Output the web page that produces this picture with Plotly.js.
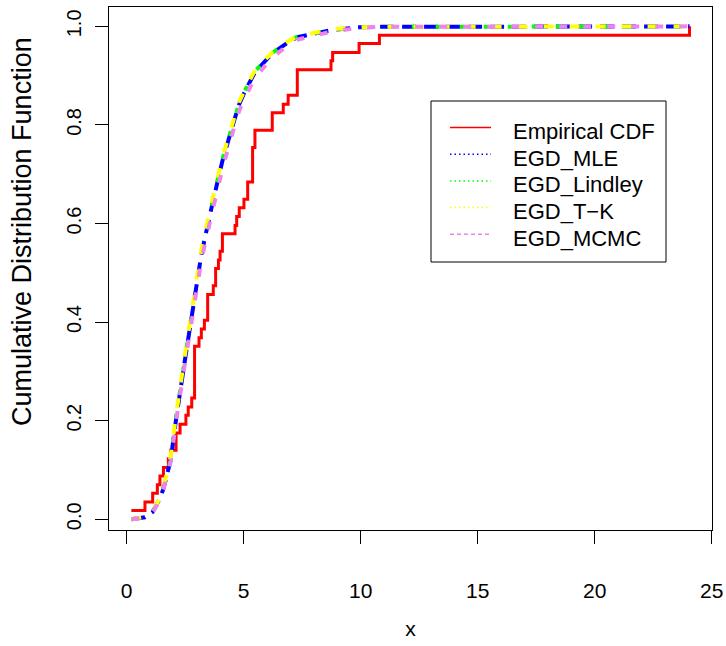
<!DOCTYPE html>
<html>
<head>
<meta charset="utf-8">
<script src="https://cdn.plot.ly/plotly-3.0.1.min.js"></script>
<style>html,body{margin:0;padding:0;background:#fff;}#chart{width:726px;height:646px;}</style>
</head>
<body>
<div id="chart"></div>
<script>
// ---- data ----
const ecdfX = [0.20,0.78,1.11,1.31,1.42,1.57,1.78,1.88,2.11,2.28,2.53,2.63,2.78,2.90,3.09,3.19,3.32,3.46,3.70,3.80,3.92,3.99,4.09,4.63,4.70,4.81,5.01,5.17,5.38,5.48,6.22,6.69,6.90,7.29,8.73,8.80,9.93,10.80,24.05];
const ecdfY = [0.018,0.035,0.053,0.070,0.088,0.105,0.123,0.140,0.175,0.193,0.211,0.228,0.246,0.351,0.368,0.386,0.404,0.456,0.474,0.509,0.526,0.544,0.579,0.596,0.614,0.632,0.649,0.684,0.754,0.789,0.825,0.842,0.860,0.912,0.930,0.947,0.965,0.982,1.000];

const fitX = [0.20,0.78,1.11,1.31,1.42,1.57,1.78,1.88,2.11,2.28,2.53,2.63,2.78,2.90,3.09,3.19,3.32,3.46,3.70,3.80,3.92,3.99,4.09,4.63,4.70,4.81,5.01,5.17,5.38,5.48,6.22,6.69,6.90,7.29,8.73,8.80,9.93,10.80,24.05];
const cdfMLE     = [0.000,0.004,0.015,0.030,0.042,0.062,0.097,0.120,0.203,0.262,0.336,0.366,0.414,0.453,0.507,0.537,0.566,0.600,0.648,0.668,0.692,0.707,0.727,0.815,0.826,0.842,0.864,0.880,0.897,0.907,0.945,0.961,0.968,0.978,0.992,0.993,0.998,0.999,1.000];
const cdfLindley = [0.000,0.004,0.016,0.031,0.044,0.064,0.100,0.123,0.206,0.265,0.339,0.369,0.417,0.456,0.510,0.540,0.569,0.603,0.651,0.671,0.695,0.710,0.730,0.817,0.828,0.844,0.866,0.882,0.899,0.909,0.946,0.962,0.969,0.979,0.992,0.993,0.998,0.999,1.000];
const cdfTK      = [0.000,0.005,0.017,0.033,0.046,0.067,0.104,0.128,0.212,0.272,0.347,0.377,0.425,0.464,0.518,0.547,0.576,0.609,0.656,0.676,0.699,0.714,0.734,0.820,0.831,0.847,0.868,0.884,0.901,0.911,0.947,0.963,0.970,0.980,0.993,0.994,0.998,0.999,1.000];
const cdfMCMC    = [0.000,0.004,0.015,0.030,0.043,0.062,0.096,0.118,0.199,0.256,0.329,0.358,0.405,0.443,0.496,0.525,0.553,0.586,0.633,0.652,0.676,0.691,0.711,0.802,0.813,0.829,0.851,0.868,0.886,0.896,0.937,0.955,0.962,0.973,0.989,0.990,0.997,0.999,1.000];

const seriesNames = ['Empirical CDF','EGD_MLE','EGD_Lindley','EGD_T\u2212K','EGD_MCMC'];
const xTicks = [0,5,10,15,20,25];
const yTicks = [0,0.2,0.4,0.6,0.8,1.0];
const yTickText = ['0.0','0.2','0.4','0.6','0.8','1.0'];
const xTitle = 'x';
const yTitle = 'Cumulative Distribution Function';

// ---- layout helpers (pixel -> paper) ----
const W = 726, H = 646;
const L = 109, R = 14, T = 7, B = 116;
const PW = W - L - R, PH = H - T - B;
const px = v => (v - L) / PW;
const py = v => (H - B - v) / PH;
const FONT = 'Liberation Sans, Arial, Helvetica, sans-serif';

const colors = ['#FF0000','#0000FF','#00FF00','#FFFF00','#EE82EE'];
const curveDash = ['solid','14px,8px','5px,19px','10px,16px','8px,16px'];
const legendDash = ['solid','1.5px,3px','1.5px,3px','1.5px,3px','4px,3px'];

const fits = [cdfMLE, cdfLindley, cdfTK, cdfMCMC];
const traces = [];
fits.forEach((ys, i) => {
  traces.push({
    type: 'scatter', mode: 'lines', x: fitX, y: ys, name: seriesNames[i+1],
    showlegend: false, hoverinfo: 'skip',
    line: {color: colors[i+1], width: 4, dash: curveDash[i+1]}
  });
});
traces.unshift({
  type: 'scatter', mode: 'lines', x: ecdfX, y: ecdfY, name: seriesNames[0],
  showlegend: false, line: {color: colors[0], width: 3, shape: 'hv'}
});

// manual legend (R style)
const shapes = [{
  type: 'rect', xref: 'paper', yref: 'paper',
  x0: px(431), x1: px(666), y0: py(101), y1: py(262),
  line: {color: '#000', width: 1}, fillcolor: 'rgba(0,0,0,0)'
}];
const annotations = [];
const rowY = [127.5, 154.2, 180.9, 207.6, 234.3];
seriesNames.forEach((n, i) => {
  shapes.push({
    type: 'line', xref: 'paper', yref: 'paper',
    x0: px(450), x1: px(491), y0: py(rowY[i]), y1: py(rowY[i]),
    line: {color: colors[i], width: 1.5, dash: legendDash[i]}
  });
  annotations.push({
    xref: 'paper', yref: 'paper', x: px(511), y: py(rowY[i] + 4),
    xanchor: 'left', yanchor: 'middle', showarrow: false, text: n,
    font: {family: FONT, size: 22, color: '#000'}
  });
});
// y axis title (R places it in the outer margin)
annotations.push({
  xref: 'paper', yref: 'paper', x: px(22), y: py(232),
  xanchor: 'center', yanchor: 'middle', showarrow: false, textangle: -90,
  text: yTitle, font: {family: FONT, size: 27, color: '#000'}
});

const layout = {
  width: W, height: H,
  margin: {l: L, r: R, t: T, b: B, pad: 0},
  paper_bgcolor: '#fff', plot_bgcolor: '#fff',
  font: {family: FONT, color: '#000'},
  showlegend: false,
  xaxis: {
    range: [-0.756, 25.01], tickvals: xTicks, ticks: 'outside', ticklen: 13,
    tickwidth: 1, tickcolor: '#000', showline: true, linecolor: '#000', linewidth: 1,
    mirror: true, showgrid: false, zeroline: false,
    tickfont: {family: FONT, size: 21, color: '#000'}, ticklabelstandoff: 29,
    title: {text: xTitle, font: {family: FONT, size: 21, color: '#000'}, standoff: 20}
  },
  yaxis: {
    range: [-0.0218, 1.0393], tickvals: yTicks, ticktext: yTickText, tickangle: -90,
    ticks: 'outside', ticklen: 13, tickwidth: 1, tickcolor: '#000',
    showline: true, linecolor: '#000', linewidth: 1, mirror: true,
    showgrid: false, zeroline: false,
    tickfont: {family: FONT, size: 20, color: '#000'}, ticklabelstandoff: 6
  },
  shapes: shapes,
  annotations: annotations
};

Plotly.newPlot('chart', traces, layout, {staticPlot: true, displayModeBar: false});
</script>
</body>
</html>
